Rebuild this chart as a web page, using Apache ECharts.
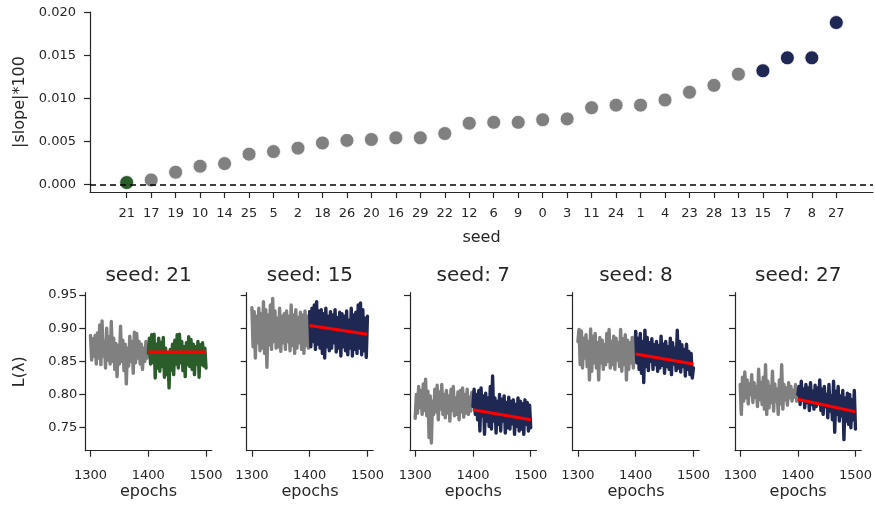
<!DOCTYPE html>
<html><head><meta charset="utf-8">
<script src="https://cdn.jsdelivr.net/npm/echarts@6/dist/echarts.min.js"></script>
<style>html,body{margin:0;padding:0;background:#fff}#c{width:875px;height:511px}</style>
</head><body><div id="c"></div>
<script>
// ---------- data ----------
const seeds = ['21','17','19','10','14','25','5','2','18','26','20','16','29','22','12','6','9','0','3','11','24','1','4','23','28','13','15','7','8','27'];
const slopes = [0.0002,0.0005,0.0014,0.0021,0.0024,0.0035,0.0038,0.0042,0.0048,0.0051,0.0052,0.0054,0.0054,0.0059,0.0071,0.0072,0.0072,0.0075,0.0076,0.0089,0.0092,0.0092,0.0098,0.0107,0.0115,0.0128,0.0132,0.0147,0.0147,0.0188];
const greenSeeds = ['21'];
const navySeeds = ['15','7','8','27'];
const slopeTicks = [0, 0.005, 0.01, 0.015, 0.02];

const panelSeeds = ['21','15','7','8','27'];
const epochTicks = [1300, 1400, 1500];
const lossTicks = [0.75, 0.80, 0.85, 0.90, 0.95];
const splitEpoch = 1400;
// loss values every 2 epochs, 1300..1500
const lossSeed21 = [
0.889,0.852,0.884,0.858,0.889,0.846,0.893,0.855,0.905,0.845,
0.911,0.858,0.880,0.840,0.900,0.852,0.887,0.846,0.910,0.850,
0.885,0.838,0.877,0.827,0.874,0.846,0.903,0.850,0.882,0.836,
0.876,0.816,0.870,0.843,0.888,0.850,0.880,0.832,0.894,0.848,
0.892,0.855,0.880,0.846,0.876,0.838,0.870,0.850,0.880,0.855,
0.862,
0.885,0.846,0.890,0.848,0.891,0.825,0.876,0.840,0.885,0.835,
0.879,0.842,0.886,0.826,0.870,0.830,0.861,0.810,0.868,0.837,
0.876,0.830,0.882,0.846,0.890,0.840,0.891,0.848,0.880,0.836,
0.872,0.827,0.878,0.845,0.887,0.842,0.883,0.838,0.876,0.830,
0.872,0.846,0.880,0.826,0.875,0.845,0.878,0.843,0.870,0.840];
const lossSeed15 = [
0.931,0.872,0.925,0.855,0.918,0.878,0.930,0.866,0.922,0.870,
0.940,0.862,0.928,0.841,0.920,0.875,0.935,0.868,0.945,0.880,
0.926,0.870,0.915,0.872,0.930,0.865,0.918,0.878,0.922,0.868,
0.926,0.880,0.918,0.866,0.935,0.874,0.920,0.862,0.928,0.870,
0.916,0.878,0.924,0.868,0.920,0.862,0.926,0.874,0.918,0.870,
0.925,
0.872,0.930,0.880,0.935,0.868,0.940,0.876,0.926,0.870,0.928,
0.862,0.922,0.855,0.930,0.872,0.918,0.866,0.925,0.870,0.920,
0.878,0.928,0.864,0.916,0.870,0.924,0.858,0.922,0.872,0.918,
0.866,0.926,0.860,0.912,0.870,0.930,0.858,0.920,0.868,0.924,
0.862,0.935,0.870,0.938,0.860,0.928,0.866,0.915,0.856,0.918];
const lossSeed7 = [
0.764,0.800,0.772,0.812,0.780,0.806,0.770,0.816,0.776,0.823,
0.768,0.805,0.735,0.798,0.727,0.790,0.770,0.808,0.774,0.814,
0.762,0.804,0.778,0.815,0.770,0.800,0.765,0.806,0.772,0.798,
0.760,0.808,0.776,0.812,0.768,0.795,0.770,0.804,0.762,0.806,
0.774,0.810,0.766,0.800,0.772,0.808,0.770,0.796,0.775,0.803,
0.782,
0.808,0.770,0.800,0.762,0.806,0.745,0.810,0.768,0.798,0.740,
0.802,0.760,0.795,0.752,0.812,0.748,0.828,0.760,0.795,0.742,
0.790,0.755,0.800,0.745,0.793,0.760,0.798,0.742,0.788,0.750,
0.796,0.748,0.790,0.756,0.792,0.740,0.785,0.752,0.795,0.745,
0.790,0.748,0.786,0.740,0.792,0.755,0.788,0.745,0.784,0.750];
const lossSeed8 = [
0.880,0.898,0.845,0.896,0.840,0.885,0.855,0.890,0.842,0.880,
0.822,0.899,0.835,0.888,0.848,0.892,0.840,0.878,0.822,0.886,
0.848,0.882,0.838,0.875,0.845,0.892,0.850,0.898,0.840,0.880,
0.845,0.888,0.838,0.885,0.852,0.878,0.842,0.898,0.835,0.884,
0.845,0.890,0.822,0.882,0.838,0.878,0.848,0.886,0.840,0.870,
0.895,
0.848,0.885,0.838,0.892,0.832,0.880,0.818,0.897,0.842,0.886,
0.836,0.878,0.850,0.884,0.838,0.875,0.845,0.880,0.835,0.874,
0.840,0.888,0.844,0.876,0.832,0.880,0.842,0.872,0.838,0.885,
0.830,0.878,0.846,0.870,0.836,0.897,0.840,0.880,0.834,0.875,
0.842,0.868,0.828,0.876,0.838,0.865,0.830,0.862,0.825,0.840];
const lossSeed27 = [
0.815,0.770,0.826,0.790,0.834,0.795,0.822,0.786,0.816,0.800,
0.830,0.788,0.818,0.796,0.812,0.782,0.838,0.792,0.818,0.785,
0.826,0.778,0.845,0.770,0.820,0.780,0.812,0.788,0.835,0.775,
0.816,0.790,0.808,0.770,0.822,0.786,0.845,0.778,0.815,0.792,
0.810,0.784,0.818,0.795,0.812,0.790,0.806,0.796,0.815,0.790,
0.800,
0.812,0.785,0.820,0.792,0.808,0.780,0.815,0.788,0.810,0.776,
0.818,0.785,0.805,0.778,0.814,0.782,0.810,0.786,0.822,0.776,
0.808,0.770,0.812,0.782,0.800,0.765,0.815,0.775,0.798,0.762,
0.820,0.743,0.805,0.770,0.812,0.760,0.798,0.768,0.806,0.732,
0.795,0.760,0.802,0.755,0.800,0.750,0.792,0.762,0.806,0.748];
const lossBySeed = [lossSeed21, lossSeed15, lossSeed7, lossSeed8, lossSeed27];
const fitStart = [0.864, 0.904, 0.777, 0.861, 0.793];
const fitEnd   = [0.864, 0.891, 0.762, 0.846, 0.774];

// ---------- styles ----------
const TXT = '#262626';
const GRAY = '#808080';
const GREEN = '#2b5d2b';
const NAVY = '#1f2852';
const FONT = 'DejaVu Sans';

function seedColor(s){
  if (greenSeeds.includes(s)) return GREEN;
  if (navySeeds.includes(s)) return NAVY;
  return GRAY;
}

const chart = echarts.init(document.getElementById('c'), null, {renderer:'canvas'});

const grids = [{left:90, top:12, width:783, height:180}];
const xAxes = [{
  gridIndex:0, type:'value', min:-1.5, max:30.5,
  name:'seed', nameLocation:'middle', nameGap:38,
  nameTextStyle:{color:TXT, fontSize:16, fontFamily:FONT},
  axisLine:{onZero:false, lineStyle:{color:TXT, width:1.2}},
  axisTick:{customValues:seeds.map((s,i)=>i), length:6, lineStyle:{color:TXT, width:1.2}},
  axisLabel:{customValues:seeds.map((s,i)=>i), formatter:v=>seeds[Math.round(v)], color:TXT, fontSize:13, fontFamily:FONT, margin:15},
  splitLine:{show:false}
}];
const yAxes = [{
  gridIndex:0, type:'value', min:-0.0009, max:0.02003,
  name:'|slope|*100', nameLocation:'middle', nameGap:61, nameRotate:90,
  nameTextStyle:{color:TXT, fontSize:16, fontFamily:FONT},
  axisLine:{show:true, onZero:false, lineStyle:{color:TXT, width:1.2}},
  axisTick:{show:true, customValues:slopeTicks, length:6, lineStyle:{color:TXT, width:1.2}},
  axisLabel:{customValues:slopeTicks, formatter:v=>v.toFixed(3), color:TXT, fontSize:13, fontFamily:FONT, margin:14},
  splitLine:{show:false}
}];
const series = [{
  type:'scatter', xAxisIndex:0, yAxisIndex:0, symbolSize:14,
  data: slopes.map((v,i)=>({value:[i,v], itemStyle:{color:seedColor(seeds[i])}})),
  itemStyle:{borderColor:'#ffffff', borderWidth:0.8, opacity:1},
  markLine:{silent:true, symbol:['none','none'], label:{show:false},
    lineStyle:{type:[6,4], color:'#000', width:1.5},
    data:[{yAxis:0}]},
  z:3
}];
const titles = [];
const lefts = [85.3, 246.7, 410, 572.7, 735];
const PW = 126.5, PT = 292.7, PH = 158;
const epochs = lossSeed21.map((v,i)=>1300+2*i);

panelSeeds.forEach((s,k)=>{
  const gi = k+1;
  grids.push({left:lefts[k], top:PT, width:PW, height:PH});
  titles.push({text:'seed: '+s, left:lefts[k]+PW/2, top:266, textAlign:'center', padding:0,
    textStyle:{color:TXT, fontSize:20, fontWeight:'normal', fontFamily:FONT}});
  xAxes.push({gridIndex:gi, type:'value', min:1291, max:1510,
    name:'epochs', nameLocation:'middle', nameGap:33,
    nameTextStyle:{color:TXT, fontSize:16, fontFamily:FONT},
    axisLine:{onZero:false, lineStyle:{color:TXT, width:1.2}},
    axisTick:{customValues:epochTicks, length:6, lineStyle:{color:TXT, width:1.2}},
    axisLabel:{customValues:epochTicks, formatter:v=>String(v), color:TXT, fontSize:13, fontFamily:FONT, margin:18},
    splitLine:{show:false}});
  yAxes.push({gridIndex:gi, type:'value', min:0.7153, max:0.9535,
    name: k===0 ? 'L(λ)' : '', nameLocation:'middle', nameGap:57, nameRotate:90,
    nameTextStyle:{color:TXT, fontSize:16, fontFamily:FONT},
    axisLine:{show:true, onZero:false, lineStyle:{color:TXT, width:1.2}},
    axisTick:{show:true, customValues:lossTicks, length:6, lineStyle:{color:TXT, width:1.2}},
    axisLabel:{show:k===0, customValues:lossTicks, formatter:v=>v.toFixed(2), color:TXT, fontSize:13, fontFamily:FONT, margin:8},
    splitLine:{show:false}});
  const loss = lossBySeed[k];
  const pts = loss.map((v,i)=>[epochs[i], v]);
  const splitIdx = epochs.indexOf(splitEpoch);
  const ls = {width:3.4, join:'round', cap:'round'};
  series.push({type:'line', xAxisIndex:gi, yAxisIndex:gi, showSymbol:false, symbol:'none',
    data:pts.slice(0, splitIdx+1), lineStyle:Object.assign({color:GRAY}, ls), z:2});
  series.push({type:'line', xAxisIndex:gi, yAxisIndex:gi, showSymbol:false, symbol:'none',
    data:pts.slice(splitIdx), lineStyle:Object.assign({color:seedColor(s)}, ls), z:3});
  series.push({type:'line', xAxisIndex:gi, yAxisIndex:gi, showSymbol:false, symbol:'none',
    data:[[splitEpoch, fitStart[k]],[epochs[epochs.length-1], fitEnd[k]]],
    lineStyle:{color:'#ff0000', width:3}, z:4});
});

chart.setOption({
  animation:false,
  backgroundColor:'#ffffff',
  textStyle:{fontFamily:FONT},
  title:titles,
  grid:grids,
  xAxis:xAxes,
  yAxis:yAxes,
  series:series
});
</script>
</body></html>
